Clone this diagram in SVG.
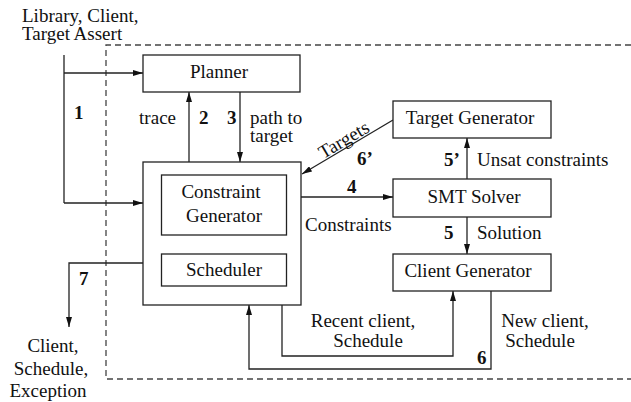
<svg xmlns="http://www.w3.org/2000/svg" width="631" height="402" viewBox="0 0 631 402">
<style>
text{font-family:"Liberation Serif","Times New Roman",serif;font-size:19px;fill:#111}
.b{font-weight:bold}
.m{text-anchor:middle}
.e{text-anchor:end}
.box{fill:#fff;stroke:#222;stroke-width:1.3}
.ln{fill:none;stroke:#222;stroke-width:1.3}
.dash{fill:none;stroke:#444;stroke-width:1.3;stroke-dasharray:6,4}
</style>
<defs>
<marker id="ah" viewBox="0 0 10 6" refX="10" refY="3" markerWidth="10" markerHeight="6" markerUnits="userSpaceOnUse" orient="auto">
<path d="M0,0 L10,3 L0,6 z" fill="#111"/>
</marker>
</defs>
<rect width="631" height="402" fill="#fff"/>
<path class="dash" d="M631,45 H106 V379 H631"/>
<text x="22" y="22">Library, Client,</text>
<text x="22" y="40">Target Assert</text>
<g id="connectors">
<path class="ln" d="M64,55 V203"/>
<path class="ln" d="M64,73 H143" marker-end="url(#ah)"/>
<path class="ln" d="M64,203 H143" marker-end="url(#ah)"/>
<path class="ln" d="M189,162 V92" marker-end="url(#ah)"/>
<path class="ln" d="M240,92 V162" marker-end="url(#ah)"/>
<path class="ln" d="M301,197 H393" marker-end="url(#ah)"/>
<path class="ln" d="M393,120 L302,174" marker-end="url(#ah)"/>
<path class="ln" d="M467,179 V138" marker-end="url(#ah)"/>
<path class="ln" d="M467,217 V254" marker-end="url(#ah)"/>
<path class="ln" d="M143,263 H69 V327" marker-end="url(#ah)"/>
<path class="ln" d="M282,305 V356 H453 V291" marker-end="url(#ah)"/>
<path class="ln" d="M491,291 V369 H249 V305" marker-end="url(#ah)"/>
<text class="b" x="74" y="119">1</text>
<text class="e" x="176" y="124">trace</text>
<text class="b" x="199" y="124">2</text>
<text class="b" x="227" y="124">3</text>
<text x="250" y="124">path to</text>
<text x="250" y="142">target</text>
<text x="344" y="146" class="m" transform="rotate(-30.7 344 140)">Targets</text>
<text class="b" x="357" y="165">6&#8217;</text>
<text class="b" x="347" y="193">4</text>
<text x="305" y="231">Constraints</text>
<text class="b" x="444" y="166">5&#8217;</text>
<text x="477" y="166">Unsat constraints</text>
<text class="b" x="444" y="239">5</text>
<text x="477" y="239">Solution</text>
<text class="b" x="79" y="285">7</text>
<text class="m" x="53" y="352">Client,</text>
<text class="m" x="51" y="375">Schedule,</text>
<text class="m" x="48" y="397">Exception</text>
<text class="m" x="363" y="327">Recent client,</text>
<text class="m" x="368" y="347">Schedule</text>
<text class="m" x="545" y="327">New client,</text>
<text class="m" x="540" y="347">Schedule</text>
<text class="b" x="477" y="364">6</text>
</g>
<g id="planner">
<rect class="box" x="143" y="55" width="157" height="37"/>
<text class="m" x="219" y="78">Planner</text>
</g>
<g id="outer">
<rect class="box" x="143" y="162" width="158" height="143"/>
</g>
<g id="constraint-generator">
<rect class="box" x="161.5" y="175" width="125" height="60"/>
<text class="m" x="221" y="198">Constraint</text>
<text class="m" x="224" y="222">Generator</text>
</g>
<g id="scheduler">
<rect class="box" x="161.5" y="254" width="125" height="32"/>
<text class="m" x="224" y="276">Scheduler</text>
</g>
<g id="target-generator">
<rect class="box" x="393" y="101" width="158" height="37"/>
<text class="m" x="470" y="124">Target Generator</text>
</g>
<g id="smt-solver">
<rect class="box" x="393" y="179" width="158" height="38"/>
<text class="m" x="474" y="203">SMT Solver</text>
</g>
<g id="client-generator">
<rect class="box" x="393" y="254" width="158" height="37"/>
<text class="m" x="468" y="277">Client Generator</text>
</g>
</svg>
